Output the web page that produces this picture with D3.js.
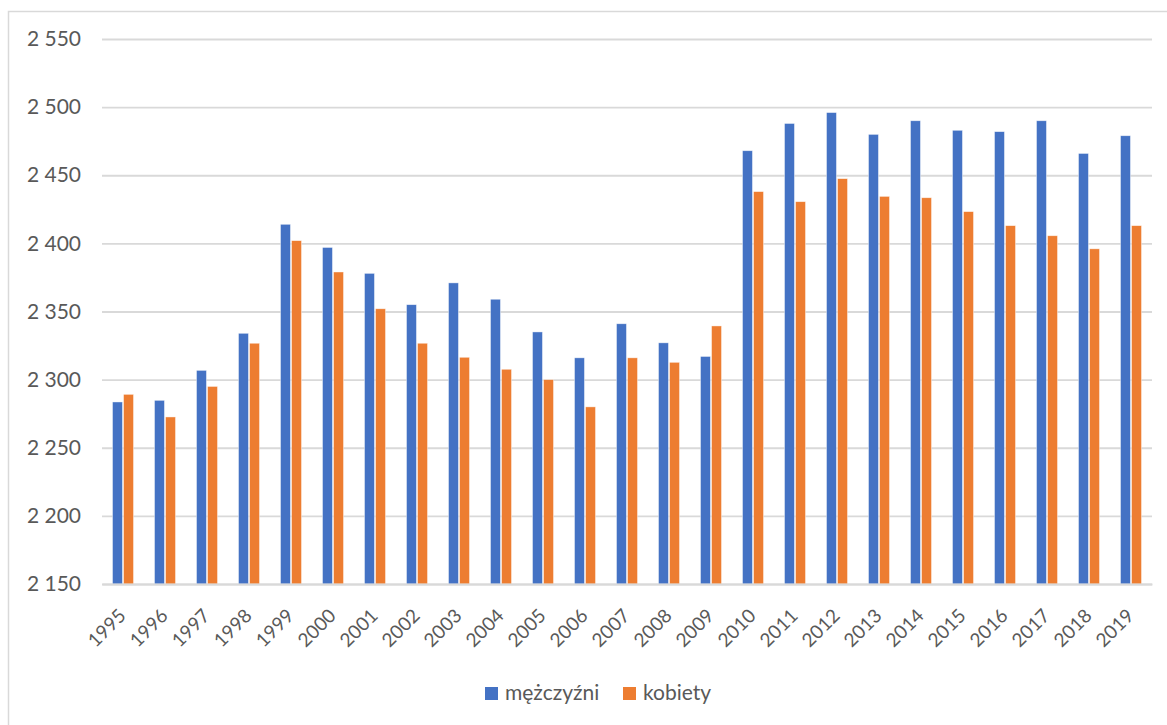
<!DOCTYPE html>
<html><head><meta charset="utf-8">
<script src="https://cdn.jsdelivr.net/npm/d3@7"></script>
<style>body{margin:0;background:#fff;}svg{display:block;}</style>
</head><body>
<svg id="c" width="1167" height="725"></svg>
<script>
const years = ["1995","1996","1997","1998","1999","2000","2001","2002","2003","2004","2005","2006","2007","2008","2009","2010","2011","2012","2013","2014","2015","2016","2017","2018","2019"];
const men   = [2283.6,2284.8,2306.8,2334,2414,2397,2378,2355,2371,2359,2335,2316,2341,2327,2317,2468,2488,2496,2480,2490,2483,2482,2490,2466,2479];
const women = [2289.2,2272.6,2295,2326.7,2402,2379,2352,2326.7,2316.4,2307.6,2300,2280,2316,2312.7,2339.4,2438,2430.6,2447.5,2434.5,2433.5,2423.3,2413,2405.6,2396,2413];
const seriesNames = ["mężczyźni","kobiety"];
const colors = ["#4472C4","#ED7D31"];
const yTicks = [2150,2200,2250,2300,2350,2400,2450,2500,2550];

const svg = d3.select("#c");
const font = "Lato, 'Open Sans', sans-serif";

svg.append("rect").attr("x",8.5).attr("y",11.5).attr("width",1170).attr("height",730)
  .attr("fill","#fff").attr("stroke","#d9d9d9").attr("stroke-width",1.5);

const x = d3.scaleBand().domain(years).range([102,1152]).paddingInner(0).paddingOuter(0);
const y = d3.scaleLinear().domain([2150,2550]).range([584,39]);
const inner = d3.scaleBand().domain([0,1]).range([x.bandwidth()/2-10.5, x.bandwidth()/2+10.5]).paddingInner(0.1);

const gy = svg.append("g").attr("transform","translate(102,0)")
  .call(d3.axisLeft(y).tickValues(yTicks).tickSize(-1050).tickPadding(21)
    .tickFormat(d=>d3.format(",")(d).replace(","," ")));
gy.select(".domain").remove();
gy.selectAll(".tick line").attr("stroke","#d9d9d9").attr("stroke-width",1.8);
gy.selectAll(".tick text").attr("fill","#595959").style("font-family",font).style("font-size","21px");

const data = years.map((yr,i)=>({yr, vals:[men[i],women[i]]}));
const g = svg.append("g");
data.forEach(d=>{
  d.vals.forEach((v,k)=>{
    g.append("rect")
      .attr("x", x(d.yr)+inner(k))
      .attr("y", y(v))
      .attr("width", inner.bandwidth())
      .attr("height", y(2150)-y(v))
      .attr("fill", colors[k])
      .attr("stroke","#fff").attr("stroke-opacity",0.6).attr("stroke-width",0.7);
  });
});

const gx = svg.append("g").attr("transform","translate(0,584)")
  .call(d3.axisBottom(x).tickSize(0).tickPadding(0));
gx.select(".domain").attr("stroke","#d9d9d9").attr("stroke-width",1.8);
gx.selectAll(".tick text").attr("fill","#595959").style("font-family",font).style("font-size","19px")
  .attr("text-anchor","end").attr("dy",0)
  .attr("transform","translate(4,33) rotate(-45)");

const lg = svg.append("g");
const legendPos = [485, 623];
seriesNames.forEach((n,k)=>{
  lg.append("rect").attr("x",legendPos[k]).attr("y",687).attr("width",13).attr("height",13).attr("fill",colors[k]);
  lg.append("text").attr("x",legendPos[k]+20).attr("y",700).text(n)
    .attr("fill","#595959").style("font-family",font).style("font-size","21px");
});
</script>
</body></html>
